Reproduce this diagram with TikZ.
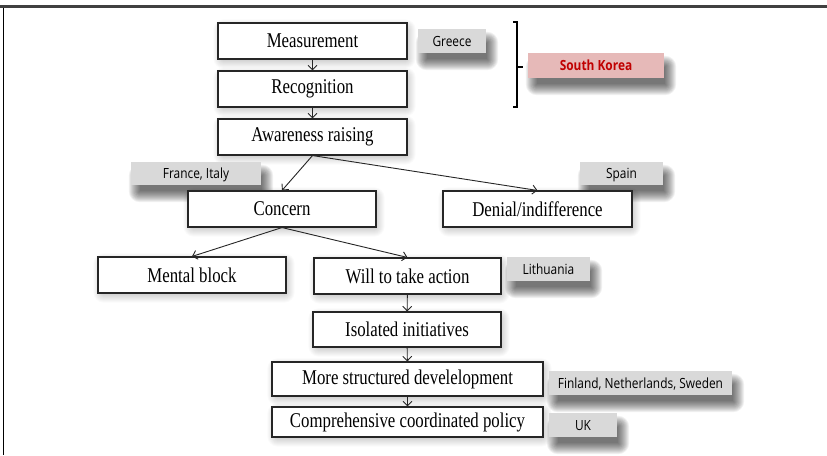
\documentclass[tikz,border=0pt]{standalone}
\usepackage{fontspec}
\usetikzlibrary{arrows.meta}
\newfontfamily\boxfont[FakeStretch=0.8]{Liberation Serif}
\newfontfamily\tagfont[FakeStretch=0.85]{Open Sans}
\definecolor{taggray}{RGB}{217,217,217}
\definecolor{tagpink}{RGB}{230,185,184}
\definecolor{tagred}{RGB}{192,0,0}
\definecolor{framegray}{RGB}{64,64,64}
\pgfdeclarelayer{paper}
\pgfdeclarelayer{shade}
\pgfsetlayers{paper,shade,main}
\tikzset{
  x=1pt, y=1pt,
  stage/.style={draw=black!85, line width=1.1pt, fill=white, inner sep=0pt,
    font=\boxfont\fontsize{21}{24}\selectfont},
  tag/.style={fill=taggray, inner sep=0pt, text depth=0pt, font=\tagfont\fontsize{14}{16}\selectfont},
  flow/.style={draw=black!85, line width=0.9pt, -{Straight Barb[length=4.5pt,width=9pt,line width=0.9pt]}},
}
% soft shadow: stacked translucent rectangles under a node
% #1 node, #2 x offset, #3 y offset, #4 number of layers, #5 opacity of each layer
\newcommand{\dropshade}[5]{%
  \foreach \k in {0,...,#4}{%
    \fill[black, opacity=#5, rounded corners=\k pt]
      ([shift={(#2-\k+4,#3-\k+4)}]#1.south west) rectangle
      ([shift={(#2+\k-4,#3+\k-4)}]#1.north east);
  }}
\begin{document}
\begin{tikzpicture}
\begin{pgfonlayer}{paper}
\fill[white] (0,0) rectangle (827,-455);
\end{pgfonlayer}
\useasboundingbox (0,0) rectangle (827,-455);

% frame edges
\draw[framegray, line width=2.5pt] (0,-6.5) -- (827,-6.5);
\draw[black, line width=1pt] (3,-7.5) -- (3,-455);

% stages
\node[stage, minimum width=189, minimum height=36] (meas)  at (312.5,-41)  {Measurement};
\node[stage, minimum width=189, minimum height=36] (recog) at (312.5,-89)  {Recognition};
\node[stage, minimum width=189, minimum height=36] (aware) at (312.5,-137) {Awareness raising};
\node[stage, minimum width=188, minimum height=36] (concern) at (282,-209) {Concern};
\node[stage, minimum width=189, minimum height=36] (denial) at (537.5,-209) {Denial/indifference};
\node[stage, minimum width=188, minimum height=36] (mental) at (192,-275) {Mental block};
\node[stage, minimum width=187, minimum height=36] (will) at (407.5,-276) {Will to take action};
\node[stage, minimum width=188, minimum height=35] (isol) at (407,-329.5) {Isolated initiatives};
\node[stage, minimum width=271, minimum height=34] (struct) at (407.5,-379) {More structured develelopment};
\node[stage, minimum width=271, minimum height=30] (comp) at (407.5,-422) {Comprehensive coordinated policy};

% country tags
\node[tag, minimum width=68, minimum height=24] (greece) at (452,-41) {Greece};
\node[tag, fill=tagpink, text=tagred, font=\tagfont\bfseries\fontsize{14}{16}\selectfont,
      minimum width=136, minimum height=25] (korea) at (596,-65.5) {South Korea};
\node[tag, minimum width=130, minimum height=23] (france) at (196,-173.5) {France, Italy};
\node[tag, minimum width=83, minimum height=23] (spain) at (621.5,-173.5) {Spain};
\node[tag, minimum width=83, minimum height=24] (lith) at (548.5,-269) {Lithuania};
\node[tag, minimum width=183, minimum height=24] (fin) at (640.5,-383) {Finland, Netherlands, Sweden};
\node[tag, minimum width=68, minimum height=24] (uk) at (583,-425) {UK};

% shadows
\begin{pgfonlayer}{shade}
\foreach \n in {meas,recog,aware,concern,denial,mental,will,isol,struct,comp}
  {\dropshade{\n}{2}{-3}{10}{0.02}}
\foreach \n in {greece,korea,france,spain,lith,fin,uk}
  {\dropshade{\n}{5}{-10}{11}{0.06}}
\end{pgfonlayer}

% bracket grouping the first two stages
\coordinate (brtop) at (517,-22);
\coordinate (brbot) at (517,-107);
\draw[black, line width=1.6pt] ([xshift=-4pt]brtop) -- (brtop) -- (brbot) -- ([xshift=-4pt]brbot);
\draw[black, line width=1.6pt] (517,-67) -- (523,-67);

% connectors
\draw[flow] (meas) -- (recog);
\draw[flow] (recog) -- (aware);
\draw[flow] (aware.south) -- (concern.north);
\draw[flow] (aware.south) -- (denial.north);
\draw[flow] (concern.south) -- (mental.north);
\draw[flow] (concern.south) -- (will.north);
\draw[flow] (will) -- (isol);
\draw[flow] (isol) -- (struct);
\draw[flow] (struct) -- (comp);
\end{tikzpicture}
\end{document}
